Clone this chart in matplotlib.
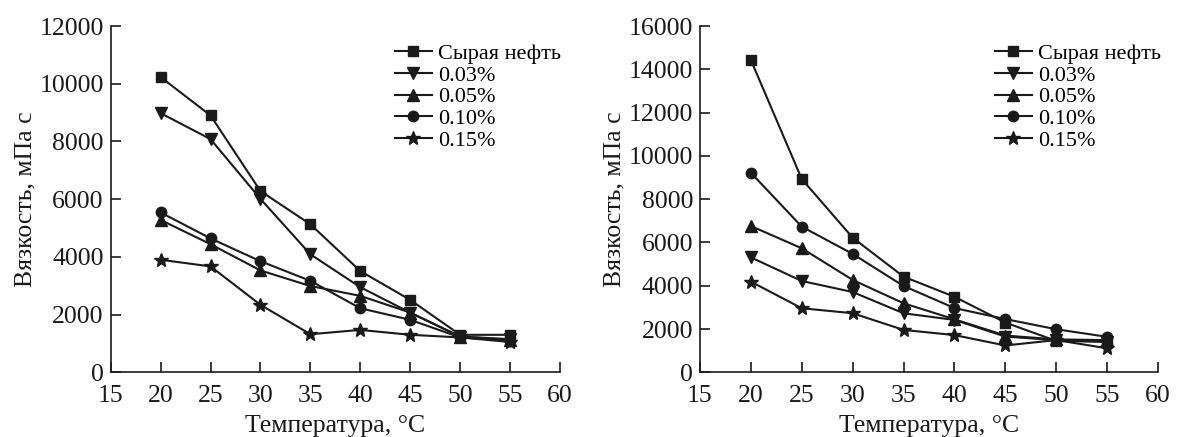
import matplotlib
matplotlib.use("Agg")
import matplotlib.pyplot as plt

plt.rcParams['font.family'] = ['Liberation Serif', 'DejaVu Serif']
plt.rcParams['mathtext.fontset'] = 'stix'

temps = [20, 25, 30, 35, 40, 45, 50, 55]
labels = ["Сырая нефть", "0.03%", "0.05%", "0.10%", "0.15%"]
markers = ["s", "v", "^", "o", "*"]

left_crude = [10230, 8900, 6280, 5130, 3510, 2510, 1300, 1300]
left_003 = [8980, 8080, 6010, 4090, 2950, 2070, 1240, 1150]
left_005 = [5280, 4440, 3530, 2990, 2650, 2070, 1240, 1120]
left_010 = [5540, 4640, 3850, 3170, 2220, 1820, 1210, 1100]
left_015 = [3900, 3670, 2340, 1320, 1470, 1300, 1210, 1050]

right_crude = [14430, 8930, 6220, 4420, 3490, 2300, 1450, 1410]
right_003 = [5310, 4220, 3710, 2730, 2420, 1650, 1490, 1410]
right_005 = [6760, 5730, 4270, 3190, 2450, 1700, 1520, 1490]
right_010 = [9220, 6730, 5470, 3990, 2970, 2460, 1990, 1640]
right_015 = [4190, 2960, 2730, 1960, 1720, 1240, 1490, 1110]

left_series = [left_crude, left_003, left_005, left_010, left_015]
right_series = [right_crude, right_003, right_005, right_010, right_015]

fig = plt.figure(figsize=(11.79, 4.37), dpi=100)
ax1 = fig.add_axes([0.0939, 0.148, 0.381, 0.7925])
ax2 = fig.add_axes([0.5937, 0.148, 0.3885, 0.7925])

msizes = {"s": 7.5, "v": 8, "^": 8, "o": 7.5, "*": 10.5}

for ax, series, ymax, lx in [(ax1, left_series, 12000, 1.023), (ax2, right_series, 16000, 1.027)]:
    for vals, lab, mk in zip(series, labels, markers):
        ax.plot(temps, vals, color="#1a1a1a", lw=1.5, marker=mk, ms=msizes[mk], label=lab)
    ax.set_xlim(15, 60)
    ax.set_ylim(0, ymax)
    ax.set_xticks(range(15, 61, 5))
    ax.set_yticks(range(0, ymax + 1, 2000))
    for s in ["top", "right"]:
        ax.spines[s].set_visible(False)
    for s in ["left", "bottom"]:
        ax.spines[s].set_linewidth(1.2)
        ax.spines[s].set_color("#1a1a1a")
    ax.tick_params(direction="in", length=7, width=1.2, labelsize=18.5, colors="#1a1a1a")
    ax.tick_params(axis="x", pad=9)
    ax.tick_params(axis="y", pad=5)
    ax.set_xlabel("Температура, °C", fontsize=18.5, color="#1a1a1a", labelpad=6)
    ax.set_ylabel("Вязкость, мПа с", fontsize=18.5, color="#1a1a1a", labelpad=2)
    leg = ax.legend(loc="upper right", bbox_to_anchor=(lx, 0.975), frameon=False, fontsize=16,
                    handlelength=1.65, handletextpad=0.3, labelspacing=0.05, borderaxespad=0)

fig.savefig("out.png", dpi=100)
